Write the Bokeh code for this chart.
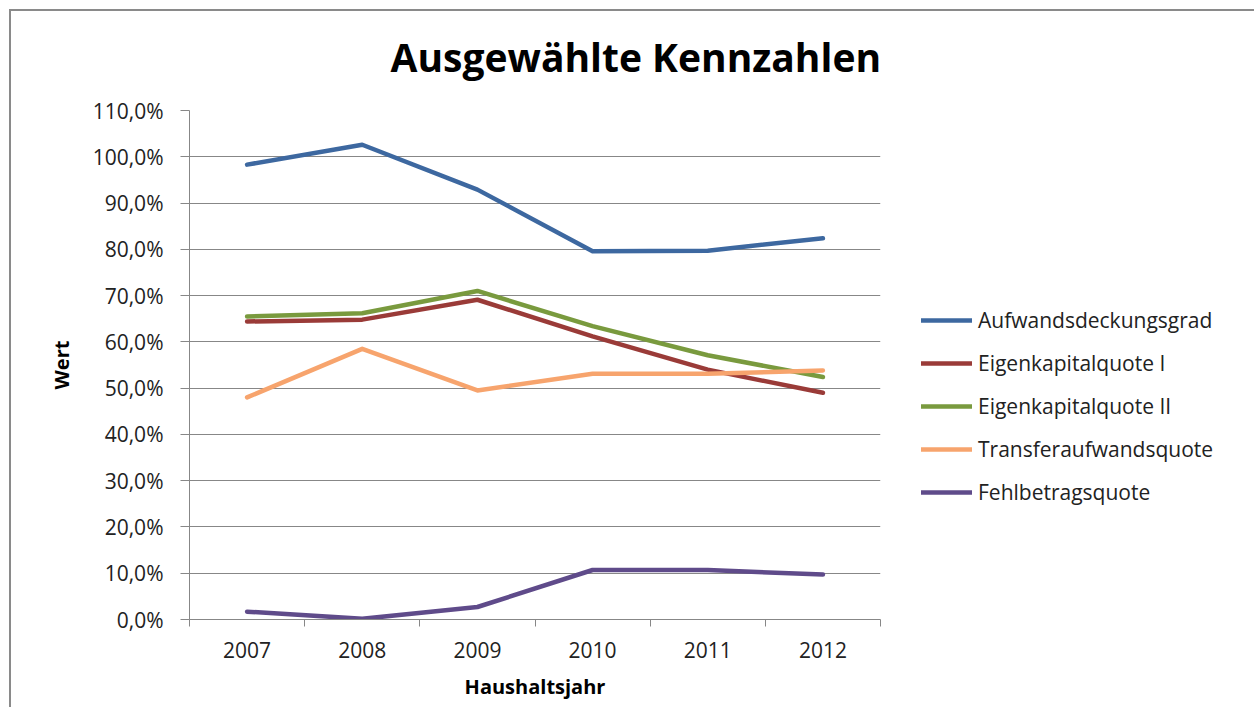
from bokeh.plotting import figure
from bokeh.models import FixedTicker, Legend, LegendItem
from bokeh.embed import file_html
from bokeh.resources import INLINE

# ---- data ----
years = ["2007", "2008", "2009", "2010", "2011", "2012"]
aufwandsdeckungsgrad = [98.3, 102.6, 92.9, 79.6, 79.7, 82.4]
eigenkapitalquote_1 = [64.4, 64.8, 69.1, 61.2, 54.0, 49.0]
eigenkapitalquote_2 = [65.5, 66.2, 71.0, 63.4, 57.1, 52.4]
transferaufwandsquote = [48.0, 58.5, 49.5, 53.1, 53.1, 53.8]
fehlbetragsquote = [1.7, 0.15, 2.7, 10.7, 10.7, 9.7]
series_names = ["Aufwandsdeckungsgrad", "Eigenkapitalquote I", "Eigenkapitalquote II",
                "Transferaufwandsquote", "Fehlbetragsquote"]
y_ticks = [0, 10, 20, 30, 40, 50, 60, 70, 80, 90, 100, 110]

colors = ["#3D68A0", "#9A3B38", "#799A3E", "#F7A46D", "#5F4B8A"]
series = [aufwandsdeckungsgrad, eigenkapitalquote_1, eigenkapitalquote_2,
          transferaufwandsquote, fehlbetragsquote]

FONT = "Open Sans"
GRID = "#878787"
W, H = 1238, 707
FL, FT, FR, FB = 189, 110, 880, 619

x = [i + 0.5 for i in range(len(years))]

p = figure(frame_width=FR - FL, frame_height=FB - FT,
           x_range=(0, len(years)), y_range=(0, 110),
           output_backend="svg", toolbar_location=None,
           min_border_left=FL, min_border_top=FT,
           min_border_right=W - FR, min_border_bottom=H - FB,
           title="Ausgewählte Kennzahlen")
p.outline_line_color = None
p.background_fill_color = "white"
p.border_fill_color = None
# outer chart border: only its left and top edges fall inside the picture
p.styles = {
    "background": ("linear-gradient(#8a8a8a, #8a8a8a) 9px 9px / 2px 100% no-repeat, "
                   "linear-gradient(#8a8a8a, #8a8a8a) 9px 9px / 100% 2px no-repeat, white"),
}

p.title.align = "left"
p.title.offset = 201
p.title.standoff = 55
p.title.text_font = FONT
p.title.text_font_size = "39px"
p.title.text_font_style = "bold"
p.title.text_color = "#000000"

# y axis
p.yaxis.ticker = FixedTicker(ticks=y_ticks)
p.yaxis.major_label_overrides = {t: f"{t},0%" for t in y_ticks}
p.yaxis.axis_line_color = GRID
p.yaxis.major_tick_line_color = GRID
p.yaxis.major_tick_out = 9
p.yaxis.major_tick_in = 0
p.yaxis.minor_tick_line_color = None
p.yaxis.major_label_text_font = FONT
p.yaxis.major_label_text_font_size = "21px"
p.yaxis.major_label_text_color = "#222222"
p.yaxis.major_label_standoff = 17
p.yaxis.axis_label = "Wert"
p.yaxis.axis_label_text_font = FONT
p.yaxis.axis_label_text_font_size = "20px"
p.yaxis.axis_label_text_font_style = "bold"
p.yaxis.axis_label_text_color = "#000000"
p.yaxis.axis_label_standoff = 15

# x axis (labels at centres, ticks between categories)
p.xaxis.ticker = FixedTicker(ticks=x, minor_ticks=list(range(len(years) + 1)))
p.xaxis.major_label_overrides = {xi: yr for xi, yr in zip(x, years)}
p.xaxis.axis_line_color = GRID
p.xaxis.major_tick_line_color = None
p.xaxis.major_tick_out = 0
p.xaxis.major_tick_in = 0
p.xaxis.minor_tick_line_color = GRID
p.xaxis.minor_tick_out = 7
p.xaxis.minor_tick_in = 0
p.xaxis.major_label_text_font = FONT
p.xaxis.major_label_text_font_size = "21px"
p.xaxis.major_label_text_color = "#222222"
p.xaxis.major_label_standoff = 15
p.xaxis.axis_label = "Haushaltsjahr"
p.xaxis.axis_label_text_font = FONT
p.xaxis.axis_label_text_font_size = "20px"
p.xaxis.axis_label_text_font_style = "bold"
p.xaxis.axis_label_text_color = "#000000"
p.xaxis.axis_label_standoff = 12

p.xgrid.grid_line_color = None
p.ygrid.grid_line_color = GRID
p.ygrid.ticker = FixedTicker(ticks=y_ticks)

items = []
for name, vals, col in zip(series_names, series, colors):
    r = p.line(x, vals, line_color=col, line_width=4.5, line_cap="round", line_join="round")
    items.append(LegendItem(label=name, renderers=[r]))

legend = Legend(items=items, location=(41, 113), orientation="vertical",
                glyph_width=51, glyph_height=20, label_height=20, spacing=15,
                label_standoff=6, padding=0, margin=0,
                label_text_font=FONT, label_text_font_size="21px",
                label_text_color="#222222",
                border_line_color=None, background_fill_alpha=0)
p.add_layout(legend, "right")

open("out.html", "w").write(file_html(p, INLINE))
